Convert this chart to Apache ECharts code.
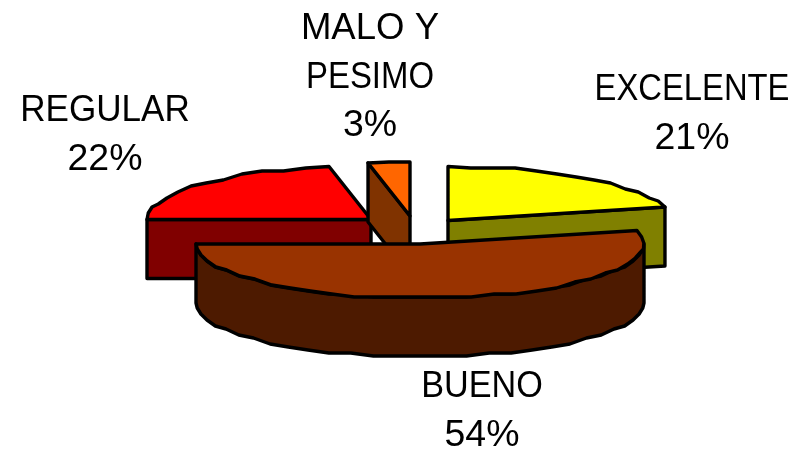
<!DOCTYPE html>
<html>
<head>
<meta charset="utf-8">
<style>html,body{margin:0;padding:0;background:#fff}#c{width:801px;height:453px}</style>
<script src="https://cdn.jsdelivr.net/npm/echarts@6/dist/echarts.min.js"></script>
</head>
<body>
<div id="c"></div>
<script>
// Data (clockwise from 12 o'clock)
var categories = ['EXCELENTE', 'BUENO', 'REGULAR', 'MALO Y\nPESIMO'];
var values = [21, 54, 22, 3];

// Styles
var topColors = ['#FFFF00', '#993300', '#FF0000', '#FF6600'];
var sideColors = ['#808000', '#4D1A00', '#800000', '#803300'];

// Layout
var pieCenter = [410, 230];
var radiusX = 224, radiusY = 54, depth = 59;
var explodeOffsets = [[38, -9.5], [10, 14], [-39, -10.5], [0, -14]];
var drawOrder = [2, 0, 3, 1];
var labelAnchors = [[692, 101], [482, 398], [105, 122], [370, 40]];
var labelScales = [[0.91, 1.04], [0.95, 1.04], [0.975, 1.04], [1.016, 0.914, 1.04]];
var fontSize = 36, lineGap = 48.5, stepDeg = 6, snapY = 3;

var total = values.reduce(function (a, b) { return a + b; }, 0);
var starts = [];
values.reduce(function (acc, v, i) { starts[i] = acc; return acc + v / total * 360; }, 0);

function rad(d) { return d * Math.PI / 180; }
function point(ax, ay, deg, snap) {
  var y = ay - radiusY * Math.cos(rad(deg));
  return [ax + radiusX * Math.sin(rad(deg)), snap ? Math.round(y / snapY) * snapY : y];
}
function arc(ax, ay, a0, a1) {
  var pts = [point(ax, ay, a0)];
  var n = Math.max(1, Math.round((a1 - a0) / stepDeg));
  for (var i = 1; i < n; i++) pts.push(point(ax, ay, a0 + (a1 - a0) * i / n, true));
  pts.push(point(ax, ay, a1));
  return pts;
}
function down(pts) { return pts.map(function (p) { return [p[0], p[1] + depth]; }); }
function poly(points, fill) {
  return { type: 'polygon', shape: { points: points },
    style: { fill: fill, stroke: '#000', lineWidth: 3.4, lineJoin: 'round' } };
}

function renderSlice(params) {
  var idx = drawOrder[params.dataIndex];
  var a0 = starts[idx], a1 = a0 + values[idx] / total * 360;
  var ax = pieCenter[0] + explodeOffsets[idx][0];
  var ay = pieCenter[1] + explodeOffsets[idx][1];
  var apex = [ax, ay], kids = [];
  // radial walls that face the viewer
  if (a0 > 180) {
    var s = [apex, point(ax, ay, a0)];
    kids.push(poly(s.concat(down(s).reverse()), sideColors[idx]));
  }
  if (a1 < 180) {
    var e = [apex, point(ax, ay, a1)];
    kids.push(poly(e.concat(down(e).reverse()), sideColors[idx]));
  }
  // outer rim on the near half of the ellipse
  var r0 = Math.max(a0, 90), r1 = Math.min(a1, 270);
  if (r1 > r0) {
    var rim = arc(ax, ay, r0, r1);
    kids.push(poly(rim.concat(down(rim).reverse()), sideColors[idx]));
  }
  // top face
  kids.push(poly([apex].concat(arc(ax, ay, a0, a1)), topColors[idx]));
  // label
  var lines = categories[idx].split('\n').concat([Math.round(values[idx] / total * 100) + '%']);
  lines.forEach(function (t, i) {
    kids.push({
      type: 'text',
      x: labelAnchors[idx][0],
      y: labelAnchors[idx][1] + i * lineGap - fontSize * 0.30,
      scaleX: labelScales[idx][i],
      style: { text: t, fill: '#000', textAlign: 'center', verticalAlign: 'middle',
        font: fontSize + 'px "Liberation Sans", Arial, sans-serif' }
    });
  });
  return { type: 'group', children: kids };
}

var chart = echarts.init(document.getElementById('c'), null, { renderer: 'canvas' });
chart.setOption({
  backgroundColor: '#fff',
  animation: false,
  tooltip: { show: false },
  series: [{
    type: 'custom',
    coordinateSystem: 'none',
    silent: true,
    renderItem: renderSlice,
    data: drawOrder.map(function (i) { return { name: categories[i], value: values[i] }; })
  }]
});
</script>
</body>
</html>
